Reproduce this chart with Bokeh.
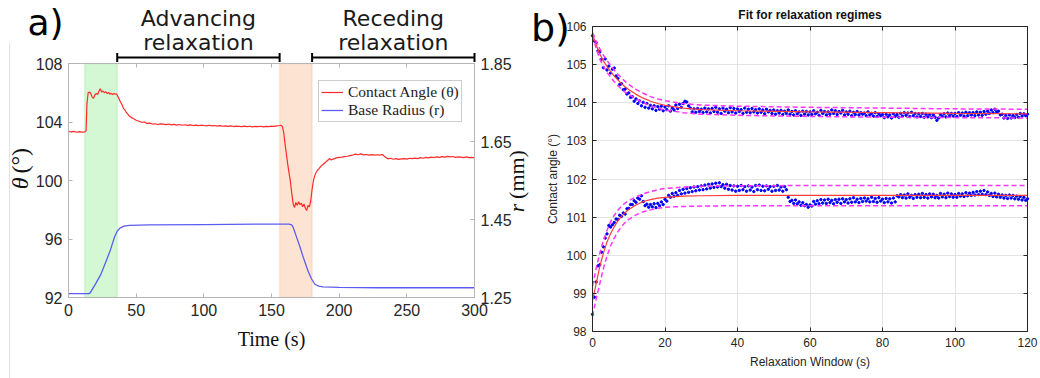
import numpy as np
from math import pi
from bokeh.plotting import figure
from bokeh.models import (Range1d, LinearAxis, BoxAnnotation, Label, Legend, LegendItem,
                          FixedTicker, Arrow, TeeHead)
from bokeh.layouts import row
from bokeh.embed import file_html
from bokeh.resources import INLINE

# ---------------- Panel a data ----------------
theta_t = [0, 2, 4, 6, 8, 10, 12, 13, 13.6, 14.5, 15.5, 16.5, 17.5, 18.5, 19.5, 20.5, 21.5, 22.5,
           23.5, 24.5, 25.5, 26.5, 27.5, 28.5, 29.5, 30.5, 31.5, 32.5, 33.5, 34.5, 35.5, 36.5,
           37.5, 38.5, 39.5, 40.5, 41.5, 42.5, 43.5, 44.5, 45.5, 46.5, 47.5, 48.5, 50, 52, 54,
           56, 58, 60, 62, 64, 66, 68, 70, 72, 74, 76, 78, 80, 82, 84, 86, 88, 90, 92, 94, 96,
           98, 100, 102, 104, 106, 108, 110, 112, 114, 116, 118, 120, 122, 124, 126, 128, 130,
           132, 134, 136, 138, 140, 142, 144, 146, 148, 150, 152, 154, 156, 157, 158, 159, 160,
           161, 162, 163, 164, 165, 166, 167, 168, 169, 170, 171, 172, 173, 174, 175, 176, 177,
           178, 179, 180, 181, 182, 183, 184, 185, 186, 188, 190, 192, 193, 194, 196, 198, 200,
           202, 204, 206, 208, 210, 212, 214, 216, 218, 220, 222, 224, 226, 228, 230, 232, 234,
           236, 238, 240, 242, 244, 246, 248, 250, 252, 254, 256, 258, 260, 262, 264, 266, 268,
           270, 272, 274, 276, 278, 280, 282, 284, 286, 288, 290, 292, 294, 296, 298, 300]
theta_v = [103.35, 103.32, 103.36, 103.30, 103.34, 103.31, 103.33, 103.40, 105.2, 106.0, 106.05,
           105.95, 105.7, 105.62, 105.85, 105.95, 105.88, 106.1, 106.28, 106.05, 106.12, 106.0,
           106.08, 105.95, 106.02, 105.9, 105.96, 105.88, 105.95, 105.9, 105.93, 105.75, 105.55,
           105.35, 105.2, 104.95, 104.85, 104.7, 104.58, 104.45, 104.38, 104.3, 104.25, 104.2,
           104.12, 104.05, 103.98, 104.0, 103.9, 103.92, 103.86, 103.88, 103.83, 103.87, 103.85,
           103.82, 103.86, 103.8, 103.84, 103.79, 103.83, 103.78, 103.81, 103.77, 103.8, 103.76,
           103.79, 103.75, 103.78, 103.76, 103.74, 103.78, 103.73, 103.76, 103.72, 103.75,
           103.71, 103.74, 103.7, 103.73, 103.69, 103.72, 103.7, 103.68, 103.72, 103.69, 103.71,
           103.67, 103.7, 103.68, 103.71, 103.67, 103.7, 103.69, 103.72, 103.7, 103.74, 103.76,
           103.78, 103.7, 103.3, 102.5, 101.8, 101.1, 100.5, 99.9, 99.1, 98.4, 98.15, 98.5, 98.3,
           98.55, 98.35, 98.45, 98.2, 98.4, 98.1, 97.95, 98.3, 98.2, 98.6, 99.4, 100.0, 100.35,
           100.55, 100.7, 100.8, 100.92, 101.1, 101.25, 101.42, 101.5, 101.4, 101.48, 101.55,
           101.58, 101.6, 101.63, 101.66, 101.7, 101.74, 101.8, 101.76, 101.82, 101.75, 101.78,
           101.74, 101.77, 101.73, 101.76, 101.74, 101.78, 101.6, 101.48, 101.52, 101.45, 101.5,
           101.44, 101.48, 101.5, 101.46, 101.52, 101.49, 101.53, 101.5, 101.56, 101.52, 101.58,
           101.55, 101.6, 101.57, 101.62, 101.58, 101.63, 101.6, 101.65, 101.61, 101.64, 101.58,
           101.62, 101.6, 101.57, 101.61, 101.56, 101.58, 101.55]

radius_t = [0, 15, 16, 20, 24, 28, 31, 34, 36, 38, 41, 45, 60, 100, 140, 163, 165, 166, 168,
            171, 173, 175, 177, 179.5, 182, 185, 188, 200, 230, 300]
radius_v = [1.260, 1.260, 1.262, 1.285, 1.310, 1.345, 1.372, 1.405, 1.420, 1.428, 1.433, 1.435,
            1.436, 1.437, 1.438, 1.438, 1.436, 1.430, 1.410, 1.380, 1.358, 1.338, 1.318, 1.298,
            1.284, 1.279, 1.277, 1.276, 1.275, 1.275]

# shaded regimes and relaxation windows (s)
advancing_region = (12, 36)
receding_region = (156, 180)
relax_windows = [(36, 156), (180, 300)]
relax_names = ["Advancing", "Receding"]

# ---------------- Panel b data ----------------
t_b = list(np.arange(0, 120.5, 0.5))
upper_regime = [
    105.76, 105.62, 105.58, 105.36, 105.33, 105.14, 104.92, 105.15, 104.86, 104.96,
    104.78, 104.88, 104.91, 104.70, 104.64, 104.48, 104.50, 104.34, 104.36, 104.23,
    104.26, 104.14, 104.16, 104.04, 104.10, 103.98, 104.05, 103.92, 104.01, 103.88,
    103.98, 103.86, 103.93, 103.84, 103.92, 103.80, 103.90, 103.83, 103.91, 103.79,
    103.89, 103.82, 103.92, 103.78, 103.86, 103.81, 103.94, 103.85, 103.96, 103.88,
    103.98, 104.04, 104.02, 103.92, 103.86, 103.76, 103.84, 103.75, 103.85, 103.77,
    103.83, 103.74, 103.86, 103.76, 103.84, 103.73, 103.85, 103.77, 103.88, 103.75,
    103.84, 103.72, 103.86, 103.78, 103.83, 103.74, 103.87, 103.76, 103.85, 103.73,
    103.84, 103.77, 103.82, 103.72, 103.86, 103.75, 103.83, 103.74, 103.85, 103.76,
    103.82, 103.73, 103.84, 103.75, 103.81, 103.71, 103.83, 103.76, 103.80, 103.72,
    103.81, 103.70, 103.79, 103.73, 103.80, 103.69, 103.78, 103.72, 103.81, 103.70,
    103.77, 103.68, 103.79, 103.71, 103.76, 103.67, 103.78, 103.70, 103.77, 103.68,
    103.76, 103.69, 103.79, 103.71, 103.75, 103.67, 103.80, 103.72, 103.77, 103.68,
    103.76, 103.70, 103.81, 103.72, 103.79, 103.69, 103.77, 103.73, 103.80, 103.68,
    103.76, 103.70, 103.78, 103.66, 103.75, 103.69, 103.77, 103.68, 103.74, 103.70,
    103.73, 103.66, 103.76, 103.68, 103.72, 103.65, 103.74, 103.64, 103.71, 103.66,
    103.69, 103.61, 103.70, 103.63, 103.68, 103.60, 103.71, 103.64, 103.69, 103.62,
    103.72, 103.65, 103.74, 103.67, 103.73, 103.64, 103.75, 103.66, 103.72, 103.63,
    103.71, 103.64, 103.72, 103.62, 103.70, 103.63, 103.69, 103.61, 103.68, 103.62,
    103.54, 103.60, 103.69, 103.64, 103.71, 103.63, 103.73, 103.66, 103.72, 103.65,
    103.72, 103.64, 103.74, 103.67, 103.73, 103.65, 103.75, 103.66, 103.74, 103.68,
    103.74, 103.66, 103.76, 103.68, 103.75, 103.67, 103.77, 103.70, 103.78, 103.72,
    103.81, 103.74, 103.83, 103.76, 103.78, 103.68, 103.70, 103.60, 103.67, 103.59,
    103.68, 103.60, 103.67, 103.61, 103.69, 103.62, 103.72, 103.65, 103.71, 103.66,
    103.70]
lower_regime = [
    98.45, 98.90, 99.30, 99.72, 99.75, 100.08, 100.22, 100.45, 100.56, 100.78,
    100.74, 100.80, 100.86, 100.95, 100.94, 101.05, 101.02, 101.11, 101.08, 101.22,
    101.23, 101.33, 101.33, 101.43, 101.39, 101.50, 101.47, 101.56, 101.41, 101.30,
    101.34, 101.26, 101.33, 101.27, 101.35, 101.25, 101.36, 101.30, 101.40, 101.33,
    101.47, 101.42, 101.57, 101.52, 101.62, 101.55, 101.64, 101.57, 101.70, 101.61,
    101.73, 101.63, 101.75, 101.65, 101.77, 101.67, 101.79, 101.69, 101.80, 101.71,
    101.82, 101.72, 101.84, 101.74, 101.86, 101.76, 101.87, 101.78, 101.89, 101.79,
    101.90, 101.80, 101.85, 101.76, 101.86, 101.73, 101.83, 101.71, 101.82, 101.68,
    101.81, 101.70, 101.83, 101.72, 101.80, 101.68, 101.82, 101.71, 101.79, 101.67,
    101.83, 101.72, 101.84, 101.70, 101.81, 101.69, 101.82, 101.73, 101.80, 101.68,
    101.81, 101.70, 101.83, 101.71, 101.79, 101.68, 101.80, 101.72, 101.52, 101.41,
    101.44, 101.36, 101.45, 101.35, 101.40, 101.31, 101.38, 101.30, 101.33, 101.26,
    101.32, 101.29, 101.41, 101.34, 101.43, 101.35, 101.46, 101.37, 101.45, 101.36,
    101.47, 101.38, 101.44, 101.35, 101.46, 101.39, 101.47, 101.36, 101.48, 101.40,
    101.46, 101.37, 101.48, 101.39, 101.51, 101.40, 101.47, 101.38, 101.49, 101.41,
    101.50, 101.42, 101.48, 101.40, 101.52, 101.41, 101.49, 101.39, 101.51, 101.42,
    101.47, 101.38, 101.49, 101.40, 101.48, 101.37, 101.50, 101.40, 101.56, 101.53,
    101.59, 101.51, 101.58, 101.50, 101.61, 101.52, 101.57, 101.49, 101.59, 101.52,
    101.60, 101.51, 101.62, 101.52, 101.59, 101.50, 101.61, 101.53, 101.60, 101.51,
    101.57, 101.50, 101.62, 101.53, 101.60, 101.51, 101.63, 101.54, 101.61, 101.52,
    101.59, 101.52, 101.62, 101.55, 101.61, 101.54, 101.64, 101.56, 101.63, 101.57,
    101.65, 101.58, 101.67, 101.59, 101.68, 101.60, 101.70, 101.59, 101.66, 101.57,
    101.62, 101.54, 101.63, 101.53, 101.60, 101.52, 101.58, 101.50, 101.57, 101.49,
    101.58, 101.50, 101.57, 101.48, 101.55, 101.47, 101.54, 101.45, 101.52, 101.44,
    101.48]

fit_t = [0, 1, 2, 3, 4, 5, 6, 7, 8, 9, 10, 12, 14, 16, 18, 20, 25, 30, 40, 60, 80, 100, 120]
upper_fit = [105.80, 105.52, 105.28, 105.10, 104.95, 104.82, 104.70, 104.60, 104.50, 104.42,
             104.35, 104.22, 104.12, 104.04, 103.98, 103.93, 103.86, 103.82, 103.79, 103.76,
             103.74, 103.72, 103.71]
upper_fit_hi = [105.84, 105.62, 105.42, 105.25, 105.11, 104.98, 104.86, 104.75, 104.65, 104.56,
                104.48, 104.35, 104.25, 104.16, 104.10, 104.05, 103.98, 103.94, 103.91, 103.88,
                103.86, 103.84, 103.83]
upper_fit_lo = [105.76, 105.43, 105.15, 104.96, 104.80, 104.67, 104.55, 104.45, 104.36, 104.28,
                104.22, 104.10, 104.00, 103.92, 103.86, 103.81, 103.74, 103.70, 103.67, 103.64,
                103.62, 103.61, 103.60]
lower_fit = [98.80, 99.25, 99.70, 100.05, 100.35, 100.57, 100.75, 100.90, 101.02, 101.12,
             101.20, 101.32, 101.41, 101.46, 101.50, 101.52, 101.55, 101.56, 101.57, 101.57,
             101.57, 101.57, 101.57]
lower_fit_hi = [99.20, 99.65, 100.05, 100.38, 100.65, 100.88, 101.05, 101.18, 101.29, 101.37,
                101.43, 101.53, 101.61, 101.67, 101.72, 101.75, 101.79, 101.81, 101.82, 101.83,
                101.83, 101.83, 101.83]
lower_fit_lo = [98.40, 98.85, 99.25, 99.65, 99.98, 100.25, 100.45, 100.62, 100.75, 100.86,
                100.94, 101.06, 101.14, 101.19, 101.23, 101.26, 101.28, 101.29, 101.30, 101.30,
                101.30, 101.30, 101.30]

a_xticks = [0, 50, 100, 150, 200, 250, 300]
a_yticks = [92, 96, 100, 104, 108]
a_rticks = [1.25, 1.45, 1.65, 1.85]
b_xticks = [0, 20, 40, 60, 80, 100, 120]
b_yticks = [98, 99, 100, 101, 102, 103, 104, 105, 106]

RED = "#ff2a2a"
BLUE = "#5c5cf2"
TXT = "#262626"
SANS = "Liberation Sans"
SERIF = "Liberation Serif"
AX_GRAY = "#b5b5b5"

# The frame covers the whole canvas; axes are pinned at the data box edges.
# Panel a: x 0..300 -> px 68..474, theta 92..108 -> px 297..63
pa = figure(width=530, height=378,
            x_range=Range1d(-68 / 1.35333, (530 - 68) / 1.35333),
            y_range=Range1d(108 - 315 / 14.625, 108 + 63 / 14.625),
            output_backend="svg", toolbar_location=None, min_border=0)
pa.title.visible = False
pa.extra_y_ranges = {"r": Range1d(1.85 - 315 / 390.0, 1.85 + 63 / 390.0)}
pa.grid.visible = False
pa.outline_line_color = None


def style_axis(ax, fs, color=AX_GRAY):
    ax.axis_line_color = color
    ax.major_tick_line_color = color
    ax.minor_tick_line_color = None
    ax.major_tick_in = 4
    ax.major_tick_out = 0
    ax.major_label_text_font = SANS
    ax.major_label_text_font_size = fs
    ax.major_label_text_color = TXT


xa = pa.xaxis[0]
xa.ticker = FixedTicker(ticks=a_xticks)
xa.fixed_location = 92
xa.bounds = (0, 300)
style_axis(xa, "16px")
xa.major_label_standoff = 6
xa.axis_label = "Time (s)"
xa.axis_label_text_font = SERIF
xa.axis_label_text_font_size = "20px"
xa.axis_label_text_font_style = "normal"
xa.axis_label_text_color = "#111111"
xa.axis_label_standoff = 9

ya = pa.yaxis[0]
ya.ticker = FixedTicker(ticks=a_yticks)
ya.fixed_location = 0
ya.bounds = (92, 108)
style_axis(ya, "16px")
ya.major_label_standoff = 6

ra = LinearAxis(y_range_name="r", ticker=FixedTicker(ticks=a_rticks), fixed_location=300,
                bounds=(1.25, 1.85))
style_axis(ra, "16px")
ra.major_label_standoff = 6
pa.add_layout(ra, "right")

ta = LinearAxis(ticker=FixedTicker(ticks=a_xticks), fixed_location=108, bounds=(0, 300),
                major_label_overrides={t: "" for t in a_xticks})
style_axis(ta, "16px")
pa.add_layout(ta, "above")

# thin separator line of the original composite figure
pa.add_layout(BoxAnnotation(left=-43.5, right=-43.5, top=109.44, fill_alpha=0,
                            line_color="#c4c4c4", line_width=1))

pa.add_layout(BoxAnnotation(left=advancing_region[0], right=advancing_region[1], bottom=92,
                            top=108, fill_color="#d4f8d4", fill_alpha=1,
                            line_color="#8ce88c", line_width=1.5, level="underlay"))
pa.add_layout(BoxAnnotation(left=receding_region[0], right=receding_region[1], bottom=92,
                            top=108, fill_color="#fde3d2", fill_alpha=1,
                            line_color="#f6b995", line_width=1.5, level="underlay"))

l1 = pa.line(theta_t, theta_v, color=RED, line_width=1.2)
l2 = pa.line(radius_t, radius_v, y_range_name="r", color=BLUE, line_width=1.3)

leg = Legend(items=[LegendItem(label="Contact Angle (θ)", renderers=[l1]),
                    LegendItem(label="Base Radius (r)", renderers=[l2])],
             location=(318, 256), label_text_font=SERIF, label_text_font_size="15.5px",
             label_text_line_height=0.85,
             label_text_color="#222222", glyph_width=22, glyph_height=14, label_height=14,
             spacing=0, padding=2, margin=0, label_standoff=5,
             border_line_color="#9a9a9a", border_line_width=1, background_fill_alpha=1)
pa.add_layout(leg)

# brackets + texts above the plot box
for (x0, x1), name in zip(relax_windows, relax_names):
    pa.add_layout(Arrow(start=TeeHead(size=9, line_width=2, line_color="black"),
                        end=TeeHead(size=9, line_width=2, line_color="black"),
                        x_start=x0, x_end=x1, y_start=108.41, y_end=108.41,
                        line_width=2, line_color="black"))
    xc = (x0 + x1) / 2
    pa.add_layout(Label(x=xc, y=111.05, text=name, text_align="center",
                        text_baseline="middle", text_font="DejaVu Sans",
                        text_font_size="22px", text_color="#1a1a1a"))
    pa.add_layout(Label(x=xc, y=109.45, text="relaxation", text_align="center",
                        text_baseline="middle", text_font="DejaVu Sans",
                        text_font_size="22px", text_color="#1a1a1a"))
pa.add_layout(Label(x=-17, y=110.8, text="a)", text_align="center", text_baseline="middle",
                    text_font="DejaVu Sans", text_font_size="36px", text_color="black"))

# rotated axis titles
pa.add_layout(Label(x=-35.5, y=99.8, text="θ", angle=pi / 2, text_align="center",
                    text_baseline="middle", text_font=SERIF, text_font_style="italic",
                    text_font_size="24px", text_color="#111111"))
pa.add_layout(Label(x=-35.5, y=101.35, text="(°)", angle=pi / 2, text_align="center",
                    text_baseline="middle", text_font=SERIF, text_font_size="24px",
                    text_color="#111111"))
pa.add_layout(Label(x=331, y=98.12, text="r", angle=pi / 2, text_align="center",
                    text_baseline="middle", text_font=SERIF, text_font_style="italic",
                    text_font_size="22px", text_color="#111111"))
pa.add_layout(Label(x=331, y=100.41, text="(mm)", angle=pi / 2, text_align="center",
                    text_baseline="middle", text_font=SERIF, text_font_size="22px",
                    text_color="#111111"))

# ---------------- Panel b ----------------
# x 0..120 -> px 62..497 of this canvas, y 98..106 -> px 331..26
pb = figure(width=510, height=378,
            x_range=Range1d(-62 / 3.625, (510 - 62) / 3.625),
            y_range=Range1d(106 - 352 / 38.125, 106 + 26 / 38.125),
            output_backend="svg", toolbar_location=None, min_border=0)
pb.title.visible = False
pb.outline_line_color = None
pb.xgrid.ticker = FixedTicker(ticks=b_xticks)
pb.ygrid.ticker = FixedTicker(ticks=b_yticks)
pb.xgrid.bounds = (0, 120)
pb.ygrid.bounds = (98, 106)
pb.xgrid.cross_bounds = (98, 106)
pb.ygrid.cross_bounds = (0, 120)
pb.grid.grid_line_color = "#e3e3e3"

bx = pb.xaxis[0]
bx.ticker = FixedTicker(ticks=b_xticks)
bx.fixed_location = 98
bx.bounds = (0, 120)
by = pb.yaxis[0]
by.ticker = FixedTicker(ticks=b_yticks)
by.fixed_location = 0
by.bounds = (98, 106)
for ax in [bx, by]:
    style_axis(ax, "12px", TXT)
    ax.major_label_standoff = 6
    ax.axis_label_text_font = SANS
    ax.axis_label_text_font_size = "12px"
    ax.axis_label_text_font_style = "normal"
    ax.axis_label_text_color = TXT
bx.axis_label = "Relaxation Window (s)"
bx.axis_label_standoff = 5
by.axis_label = "Contact angle (°)"
by.axis_label_standoff = 3

tb = LinearAxis(ticker=FixedTicker(ticks=b_xticks), fixed_location=106, bounds=(0, 120),
                major_label_overrides={t: "" for t in b_xticks})
style_axis(tb, "12px", TXT)
pb.add_layout(tb, "above")
rb = LinearAxis(ticker=FixedTicker(ticks=b_yticks), fixed_location=120, bounds=(98, 106),
                major_label_overrides={t: "" for t in b_yticks})
style_axis(rb, "12px", TXT)
pb.add_layout(rb, "right")

pb.scatter(t_b, upper_regime, size=2.4, color="#0000ff")
pb.scatter(t_b, lower_regime, size=2.4, color="#0000ff")
pb.line(fit_t, upper_fit, color="#ff3b3b", line_width=1.2)
pb.line(fit_t, lower_fit, color="#ff3b3b", line_width=1.2)
for arr in [upper_fit_hi, upper_fit_lo, lower_fit_hi, lower_fit_lo]:
    pb.line(fit_t, arr, color="#ff33ff", line_width=1.5, line_dash="5 3")

pb.add_layout(Label(x=60, y=106.29, text="Fit for relaxation regimes", text_align="center",
                    text_baseline="middle", text_font=SANS, text_font_style="bold",
                    text_font_size="12px", text_color="#111111"))
pb.add_layout(Label(x=-11.6, y=105.97, text="b)", text_align="center",
                    text_baseline="middle", text_font="DejaVu Sans",
                    text_font_size="38px", text_color="black"))

layout = row(pa, pb)
open("out.html", "w").write(file_html(layout, INLINE))
